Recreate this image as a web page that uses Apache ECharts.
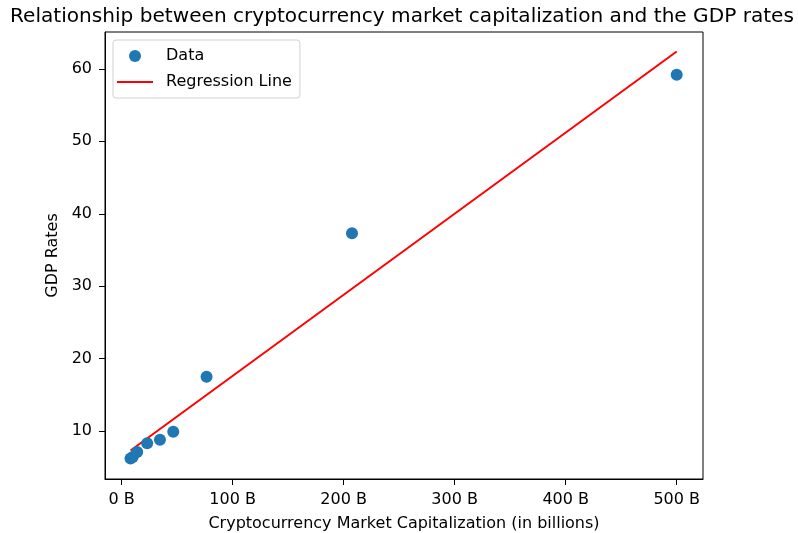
<!DOCTYPE html>
<html>
<head>
<meta charset="utf-8">
<script src="https://cdn.jsdelivr.net/npm/echarts@6/dist/echarts.min.js"></script>
<style>
  html, body { margin: 0; padding: 0; background: #fff; }
  #chart { width: 798px; height: 533px; }
</style>
</head>
<body>
<div id="chart"></div>
<script>
// Market capitalization (billions) and GDP rate per observation
const marketCap = [8, 10, 14, 23, 34.5, 46.5, 76.5, 207.5, 500];
const gdpRates = [6.2, 6.4, 7.1, 8.3, 8.8, 9.9, 17.5, 37.3, 59.2];
const xTicks = [0, 100, 200, 300, 400, 500];
const yTicks = [10, 20, 30, 40, 50, 60];

// Ordinary least-squares fit, drawn between the smallest and largest x
function fitLine(xs, ys) {
  const n = xs.length;
  const mx = xs.reduce((a, b) => a + b, 0) / n;
  const my = ys.reduce((a, b) => a + b, 0) / n;
  let sxy = 0, sxx = 0;
  for (let i = 0; i < n; i++) {
    sxy += (xs[i] - mx) * (ys[i] - my);
    sxx += (xs[i] - mx) * (xs[i] - mx);
  }
  const slope = sxy / sxx;
  const intercept = my - slope * mx;
  const x0 = Math.min(...xs), x1 = Math.max(...xs);
  return [[x0, intercept + slope * x0], [x1, intercept + slope * x1]];
}

const font = 'DejaVu Sans';
const chart = echarts.init(document.getElementById('chart'), null, { renderer: 'canvas' });
chart.setOption({
  animation: false,
  backgroundColor: '#fff',
  title: {
    text: 'Relationship between cryptocurrency market capitalization and the GDP rates',
    left: 5,
    top: 2,
    textStyle: { fontFamily: font, fontSize: 20.1, fontWeight: 'normal', color: '#000' }
  },
  legend: {
    orient: 'vertical',
    left: 113,
    top: 40,
    padding: [8, 8, 8, 4],
    itemWidth: 36,
    itemHeight: 12,
    itemGap: 10,
    symbolKeepAspect: true,
    borderColor: '#d0d0d0',
    borderWidth: 1,
    borderRadius: 3,
    backgroundColor: '#fff',
    textStyle: { fontFamily: font, fontSize: 16, color: '#000', padding: [0, 0, 0, 8] },
    data: [
      { name: 'Data', icon: 'circle' },
      { name: 'Regression Line', icon: 'path://M0,0H36V2H0Z' }
    ]
  },
  grid: {
    left: 105, right: 95, top: 32, bottom: 54,
    containLabel: false,
    outerBoundsMode: 'none',
    show: true, borderColor: '#000', borderWidth: 1, backgroundColor: 'transparent'
  },
  xAxis: {
    type: 'value',
    min: -15,
    max: 523.7,
    name: 'Cryptocurrency Market Capitalization (in billions)',
    nameLocation: 'middle',
    nameGap: 37,
    nameTextStyle: { fontFamily: font, fontSize: 16, color: '#000' },
    axisLine: { show: true, onZero: false, lineStyle: { color: '#000', width: 1 } },
    axisTick: { show: true, inside: false, length: 6, customValues: xTicks, lineStyle: { color: '#000' } },
    axisLabel: {
      customValues: xTicks, margin: 13,
      fontFamily: font, fontSize: 16, color: '#000',
      formatter: v => v + ' B'
    },
    splitLine: { show: false }
  },
  yAxis: {
    type: 'value',
    min: 3.37,
    max: 65.1,
    name: 'GDP Rates',
    nameLocation: 'middle',
    nameGap: 44,
    nameTextStyle: { fontFamily: font, fontSize: 16, color: '#000' },
    axisLine: { show: true, onZero: false, lineStyle: { color: '#000', width: 1 } },
    axisTick: { show: true, inside: false, length: 6, customValues: yTicks, lineStyle: { color: '#000' } },
    axisLabel: {
      customValues: yTicks, margin: 13,
      fontFamily: font, fontSize: 16, color: '#000'
    },
    splitLine: { show: false }
  },
  series: [
    {
      name: 'Data',
      type: 'scatter',
      symbol: 'circle',
      symbolSize: 12,
      itemStyle: { color: '#1f77b4', opacity: 1 },
      data: marketCap.map((x, i) => [x, gdpRates[i]]),
      z: 3
    },
    {
      name: 'Regression Line',
      type: 'line',
      symbol: 'none',
      showSymbol: false,
      lineStyle: { color: '#ff0000', width: 2 },
      itemStyle: { color: '#ff0000' },
      data: fitLine(marketCap, gdpRates),
      z: 2
    }
  ]
});
</script>
</body>
</html>
